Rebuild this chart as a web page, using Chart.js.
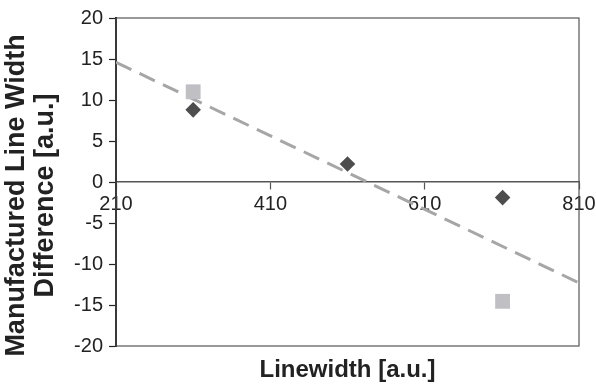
<!DOCTYPE html>
<html>
<head>
<meta charset="utf-8">
<script src="https://cdn.jsdelivr.net/npm/chart.js@4/dist/chart.umd.min.js"></script>
<style>
  html, body { margin: 0; padding: 0; background: #fff; }
  #wrap { width: 596px; height: 391px; }
</style>
</head>
<body>
<div id="wrap"><canvas id="chart-linewidth" width="596" height="391"></canvas></div>
<script>
// data
var diamondX = [310, 510, 711];
var diamondY = [8.8, 2.2, -1.9];
var squareX = [310, 711];
var squareY = [11.0, -14.55];
var trendX = [210, 810];
var trendY = [14.6, -12.3];
var xTicks = [210, 410, 610, 810];
var yTicks = [-20, -15, -10, -5, 0, 5, 10, 15, 20];
var xTitle = 'Linewidth [a.u.]';
var yTitle = ['Manufactured Line Width', 'Difference [a.u.]'];

function toPoints(xs, ys) {
    return xs.map(function(x, i) { return {x: x, y: ys[i]} })
}

var fontFamily = '"Liberation Sans", Arial, sans-serif'

// plot frame (top and right sides)
var framePlugin = {
    id: 'frame',
    beforeDatasetsDraw: function(chart) {
        var a = chart.chartArea
        var ctx = chart.ctx
        ctx.save()
        ctx.strokeStyle = '#555'
        ctx.lineWidth = 1.2
        ctx.strokeRect(a.left, a.top, a.right - a.left, a.bottom - a.top)
        ctx.restore()
    }
}

// axis titles, placed the way the spreadsheet did it
var axisTitlePlugin = {
    id: 'axisTitles',
    afterDraw: function(chart) {
        var a = chart.chartArea
        var ctx = chart.ctx
        ctx.save()
        ctx.fillStyle = '#222'
        ctx.textAlign = 'center'
        ctx.textBaseline = 'middle'

        ctx.font = 'bold 24px ' + fontFamily
        ctx.fillText(xTitle, (a.left + a.right) / 2, a.bottom + 24)

        ctx.font = 'bold 27px ' + fontFamily
        ctx.translate(17, chart.height / 2)
        ctx.rotate(-Math.PI / 2)
        yTitle.forEach(function(line, i) {
            ctx.fillText(line, 0, i * 29)
        })
        ctx.restore()
    }
}

new Chart(document.getElementById('chart-linewidth').getContext('2d'), {
    type: 'scatter',
    data: {
        datasets: [{
            type: 'line',
            data: toPoints(trendX, trendY),
            borderColor: '#a6a6a6',
            borderWidth: 3,
            borderDash: [17, 9],
            pointRadius: 0,
            fill: false,
            order: 3
        }, {
            data: toPoints(diamondX, diamondY),
            pointStyle: 'rectRot',
            pointRadius: 7.8,
            backgroundColor: '#4d4d4d',
            borderColor: '#4d4d4d',
            borderWidth: 0,
            order: 2
        }, {
            data: toPoints(squareX, squareY),
            pointStyle: 'rect',
            pointRadius: 10.5,
            backgroundColor: '#bfbfc4',
            borderColor: '#bfbfc4',
            borderWidth: 0,
            order: 1
        }]
    },
    options: {
        responsive: false,
        animation: false,
        layout: { padding: { top: 14, right: 17, bottom: 45, left: 0 } },
        plugins: {
            legend: { display: false },
            tooltip: { enabled: false }
        },
        scales: {
            x: {
                type: 'linear',
                position: { y: 0 },
                min: 210,
                max: 810,
                afterBuildTicks: function(s) { s.ticks = xTicks.map(function(v) { return {value: v} }) },
                afterFit: function(s) {
                    s.height = 0
                    s.paddingLeft = 0
                    s.paddingRight = 0
                },
                ticks: {
                    color: '#222',
                    font: { family: fontFamily, size: 20 },
                    padding: 3,
                    maxRotation: 0,
                    autoSkip: false
                },
                grid: { drawOnChartArea: false, tickLength: 7, tickColor: '#555', tickWidth: 1.2 },
                border: { color: '#555', width: 1.5 }
            },
            y: {
                type: 'linear',
                min: -20,
                max: 20,
                afterBuildTicks: function(s) { s.ticks = yTicks.map(function(v) { return {value: v} }) },
                afterFit: function(s) { s.width = 116 },
                ticks: {
                    color: '#222',
                    font: { family: fontFamily, size: 20 },
                    padding: 6
                },
                grid: { drawOnChartArea: false, tickLength: 7, tickColor: '#222', tickWidth: 1.2 },
                border: { color: '#111', width: 2 }
            }
        }
    },
    plugins: [framePlugin, axisTitlePlugin]
})
</script>
</body>
</html>
